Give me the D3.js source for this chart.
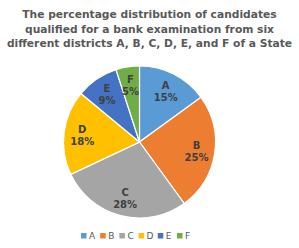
<!DOCTYPE html>
<html><head><meta charset="utf-8">
<script src="https://cdn.jsdelivr.net/npm/d3@7"></script>
<style>body{margin:0;background:#fff}svg{display:block}</style>
</head><body>
<script>
const categories = ["A","B","C","D","E","F"];
const values = [15,25,28,18,9,5];
const colors = ["#5B9BD5","#ED7D31","#A5A5A5","#FFC000","#4472C4","#70AD47"];
const titleLines = ["The percentage distribution of candidates","qualified for a bank examination from six","different districts A, B, C, D, E, and F of a State"];

const W=299,H=248;
const svg=d3.select("body").append("svg").attr("width",W).attr("height",H);
svg.append("rect").attr("width",W).attr("height",H).attr("fill","#fff");

svg.selectAll("text.title").data(titleLines).join("text")
  .attr("x",W/2).attr("y",(d,i)=>18+i*14.5)
  .attr("text-anchor","middle").attr("font-family","DejaVu Sans").attr("font-weight","bold")
  .attr("font-size","10.7px").attr("fill","#595959").text(d=>d);

const cx=139.5,cy=142,r=76;
const pie=d3.pie().sort(null).value(d=>d.v);
const data=pie(categories.map((c,i)=>({c,v:values[i],col:colors[i]})));
const arc=d3.arc().innerRadius(0).outerRadius(r);
const labelArc=d3.arc().innerRadius(r*0.76).outerRadius(r*0.76);
const g=svg.append("g").attr("transform",`translate(${cx},${cy})`);
g.selectAll("path").data(data).join("path").attr("d",arc).attr("fill",d=>d.data.col)
  .attr("stroke","#fff").attr("stroke-width",1.2);
const lab=g.selectAll("g.lab").data(data).join("g").attr("transform",d=>`translate(${labelArc.centroid(d)})`);
lab.append("text").attr("y",-2).attr("text-anchor","middle").attr("font-family","DejaVu Sans").attr("font-weight","bold")
  .attr("font-size","10px").attr("fill","#404040").text(d=>d.data.c);
lab.append("text").attr("y",10).attr("text-anchor","middle").attr("font-family","DejaVu Sans").attr("font-weight","bold")
  .attr("font-size","10px").attr("fill","#404040").text(d=>d.data.v+"%");

const leg=svg.append("g").attr("transform","translate(81,236)");
const step=19.2;
const items=leg.selectAll("g").data(categories).join("g").attr("transform",(d,i)=>`translate(${i*step},0)`);
items.append("rect").attr("x",0).attr("y",-3).attr("width",5.5).attr("height",5.5).attr("fill",(d,i)=>colors[i]);
items.append("text").attr("x",8).attr("y",3.3).attr("font-family","DejaVu Sans").attr("font-size","9px").attr("fill","#595959").text(d=>d);
</script>
</body></html>
